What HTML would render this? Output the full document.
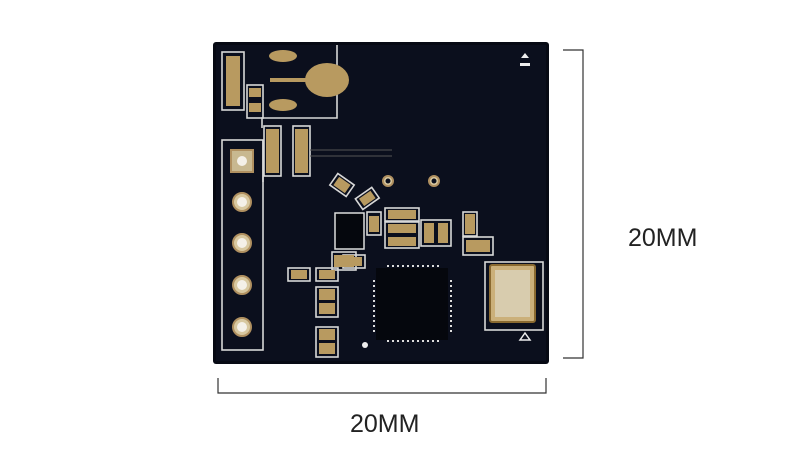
<!DOCTYPE html>
<html><head><style>
html,body{margin:0;padding:0;background:#fff;width:802px;height:470px;overflow:hidden}
svg{display:block}
</style></head><body>
<svg width="802" height="470" viewBox="0 0 802 470" xmlns="http://www.w3.org/2000/svg">
<rect x="213" y="42" width="336" height="322" rx="3" fill="#070a14"/>
<rect x="216" y="45" width="330" height="316" fill="#0b0f1d"/>
<g fill="none" stroke="#d8d8d8" stroke-width="1.6">
<polyline points="337,45 337,118 262,118 262,128"/>
<rect x="222" y="140" width="41" height="210"/>
<line x1="263" y1="140" x2="263" y2="182"/>
<rect x="222" y="52" width="22" height="58"/>
<rect x="247" y="85" width="16" height="33"/>
<rect x="264" y="126" width="17" height="50"/>
<rect x="293" y="126" width="17" height="50"/>
<rect x="332" y="252" width="24" height="18"/>
<rect x="367" y="212" width="14" height="23"/>
<rect x="385" y="208" width="34" height="13"/>
<rect x="385" y="222" width="34" height="26"/>
<rect x="421" y="220" width="30" height="26"/>
<rect x="463" y="212" width="14" height="24"/>
<rect x="463" y="237" width="30" height="18"/>
<rect x="288" y="268" width="22" height="13"/>
<rect x="316" y="268" width="22" height="13"/>
<rect x="316" y="287" width="22" height="30"/>
<rect x="316" y="327" width="22" height="30"/>
<rect x="343" y="255" width="22" height="13"/>
<rect x="485" y="262" width="58" height="68"/>
<rect x="332" y="178" width="20" height="14" transform="rotate(35 342 185)"/>
<rect x="357" y="192" width="20" height="13" transform="rotate(-35 367 198)"/>
</g>
<line x1="310" y1="150" x2="392" y2="150" stroke="#555" stroke-width="1"/>
<line x1="310" y1="156" x2="392" y2="156" stroke="#555" stroke-width="1"/>
<g fill="#b89a60">
<rect x="226" y="56" width="14" height="50"/>
<rect x="249" y="88" width="12" height="9"/>
<rect x="249" y="103" width="12" height="9"/>
<rect x="266" y="129" width="13" height="44"/>
<rect x="295" y="129" width="13" height="44"/>
<rect x="334" y="255" width="20" height="12"/>
<rect x="369" y="216" width="10" height="16"/>
<rect x="388" y="210" width="28" height="9"/>
<rect x="388" y="224" width="28" height="9"/>
<rect x="388" y="237" width="28" height="9"/>
<rect x="424" y="223" width="10" height="20"/>
<rect x="438" y="223" width="10" height="20"/>
<rect x="465" y="214" width="10" height="20"/>
<rect x="466" y="240" width="24" height="12"/>
<rect x="291" y="270" width="16" height="9"/>
<rect x="319" y="270" width="16" height="9"/>
<rect x="319" y="289" width="16" height="11"/>
<rect x="319" y="303" width="16" height="11"/>
<rect x="319" y="329" width="16" height="11"/>
<rect x="319" y="343" width="16" height="11"/>
<rect x="346" y="257" width="16" height="9"/>
<rect x="335" y="180" width="14" height="10" transform="rotate(35 342 185)"/>
<rect x="360" y="194" width="14" height="9" transform="rotate(-35 367 198)"/>
<ellipse cx="283" cy="56" rx="14" ry="6"/>
<ellipse cx="283" cy="105" rx="14" ry="6"/>
<ellipse cx="327" cy="80" rx="22" ry="17"/>
<rect x="270" y="78" width="40" height="4"/>
</g>
<rect x="490" y="265" width="45" height="57" rx="2" fill="#cbb07a" stroke="#8a6a30" stroke-width="2"/>
<rect x="495" y="270" width="35" height="47" fill="#d8ccae"/>
<g fill="#d8c8a0" stroke="#b09060" stroke-width="2">
<rect x="231" y="150" width="22" height="22" fill="#c8b890"/>
<circle cx="242" cy="202" r="9"/><circle cx="242" cy="243" r="9"/><circle cx="242" cy="285" r="9"/><circle cx="242" cy="327" r="9"/>
<circle cx="388" cy="181" r="5"/><circle cx="434" cy="181" r="5"/>
</g>
<g fill="#f4f0e8"><circle cx="242" cy="161" r="5"/><circle cx="242" cy="202" r="5"/><circle cx="242" cy="243" r="5"/><circle cx="242" cy="285" r="5"/><circle cx="242" cy="327" r="5"/></g>
<g fill="#0b0f1d"><circle cx="388" cy="181" r="2.5"/><circle cx="434" cy="181" r="2.5"/></g>
<rect x="335" y="213" width="29" height="36" fill="#05070d" stroke="#ddd" stroke-width="1.5"/>
<rect x="376" y="268" width="72" height="72" fill="#05070d"/>
<g stroke="#ddd" stroke-width="2" stroke-dasharray="2 3">
<line x1="387" y1="266" x2="440" y2="266"/><line x1="387" y1="341" x2="440" y2="341"/>
<line x1="374" y1="280" x2="374" y2="332"/><line x1="451" y1="280" x2="451" y2="332"/>
</g>
<polygon points="521,58 525,53 529,58" fill="#eee"/><rect x="520" y="63" width="10" height="3" fill="#eee"/>
<polygon points="525,333 530,340 520,340" fill="none" stroke="#eee" stroke-width="1.5"/>
<circle cx="365" cy="345" r="3" fill="#eee"/>
<g stroke="#333" stroke-width="1.2" fill="none">
<polyline points="563,50 583,50 583,358 563,358"/>
<polyline points="218,378 218,393 546,393 546,378"/>
</g>
<g font-family="'Liberation Sans',sans-serif" font-size="25" fill="#222">
<text x="628" y="246">20MM</text>
<text x="350" y="432">20MM</text>
</g>
</svg>
</body></html>
